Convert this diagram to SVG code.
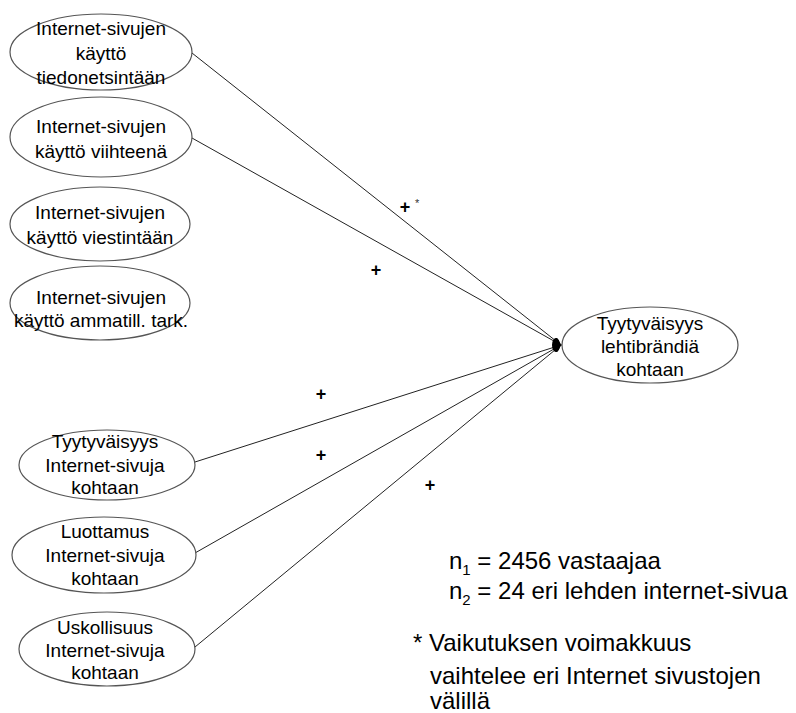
<svg xmlns="http://www.w3.org/2000/svg" width="796" height="713" viewBox="0 0 796 713">
<defs>
<style>
.n ellipse{fill:#fff;stroke:#555;stroke-width:1.2}
.n text{font-family:"Liberation Sans",Arial,sans-serif;font-size:19px;fill:#000;text-anchor:middle}
.c line{stroke:#222;stroke-width:1}
.p{font-family:"Liberation Sans",Arial,sans-serif;font-size:18px;font-weight:bold;fill:#000;text-anchor:middle}
.s{font-family:"Liberation Sans",Arial,sans-serif;font-size:11px;fill:#333}
.note{font-family:"Liberation Sans",Arial,sans-serif;font-size:24px;fill:#000}
</style>
<marker id="ah" viewBox="0 0 10 10" refX="9" refY="5" markerWidth="9" markerHeight="9" markerUnits="userSpaceOnUse" orient="auto">
<path d="M0,1.5 L10,5 L0,8.5 z" fill="#000"/>
</marker>
</defs>
<g class="c" id="connectors">
<line x1="192" y1="53" x2="561" y2="345" marker-end="url(#ah)"/>
<line x1="192" y1="138" x2="561" y2="345" marker-end="url(#ah)"/>
<line x1="195" y1="462" x2="561" y2="345" marker-end="url(#ah)"/>
<line x1="195" y1="553" x2="561" y2="345" marker-end="url(#ah)"/>
<line x1="195" y1="647" x2="561" y2="345" marker-end="url(#ah)"/>
<ellipse cx="556" cy="345" rx="4" ry="7" fill="#000"/>
</g>
<g class="n" id="n1"><ellipse cx="101" cy="52" rx="91" ry="38"/>
<text x="101" y="35">Internet-sivujen</text><text x="101" y="60">käyttö</text><text x="101" y="84">tiedonetsintään</text></g>
<g class="n" id="n2"><ellipse cx="101" cy="137" rx="91" ry="40"/>
<text x="101" y="133">Internet-sivujen</text><text x="101" y="158">käyttö viihteenä</text></g>
<g class="n" id="n3"><ellipse cx="100" cy="224" rx="90" ry="37"/>
<text x="100" y="219">Internet-sivujen</text><text x="100" y="244">käyttö viestintään</text></g>
<g class="n" id="n4"><ellipse cx="100" cy="303" rx="90" ry="37"/>
<text x="101" y="304">Internet-sivujen</text><text x="101" y="327">käyttö ammatill. tark.</text></g>
<g class="n" id="n5"><ellipse cx="107" cy="465" rx="88" ry="35"/>
<text x="105" y="448">Tyytyväisyys</text><text x="105" y="472">Internet-sivuja</text><text x="105" y="494">kohtaan</text></g>
<g class="n" id="n6"><ellipse cx="104" cy="555" rx="92" ry="38"/>
<text x="105" y="538">Luottamus</text><text x="105" y="562">Internet-sivuja</text><text x="105" y="585">kohtaan</text></g>
<g class="n" id="n7"><ellipse cx="107" cy="649" rx="88" ry="37"/>
<text x="105" y="634">Uskollisuus</text><text x="105" y="657">Internet-sivuja</text><text x="105" y="679">kohtaan</text></g>
<g class="n" id="target"><ellipse cx="650" cy="345" rx="88" ry="38"/>
<text x="650" y="330">Tyytyväisyys</text><text x="650" y="353">lehtibrändiä</text><text x="650" y="376">kohtaan</text></g>
<g id="labels">
<text class="p" x="405" y="213">+</text><text class="s" x="415" y="207">*</text>
<text class="p" x="376" y="276">+</text>
<text class="p" x="321" y="400">+</text>
<text class="p" x="321" y="461">+</text>
<text class="p" x="430" y="491">+</text>
</g>
<g id="notes" class="note">
<text x="449" y="569">n<tspan font-size="15" dy="6">1</tspan><tspan dy="-6"> = 2456 vastaajaa</tspan></text>
<text x="449" y="599">n<tspan font-size="15" dy="6">2</tspan><tspan dy="-6"> = 24 eri lehden internet-sivua</tspan></text>
<text x="413" y="651">* Vaikutuksen voimakkuus</text>
<text x="430" y="684">vaihtelee eri Internet sivustojen</text>
<text x="430" y="709">välillä</text>
</g>
</svg>
